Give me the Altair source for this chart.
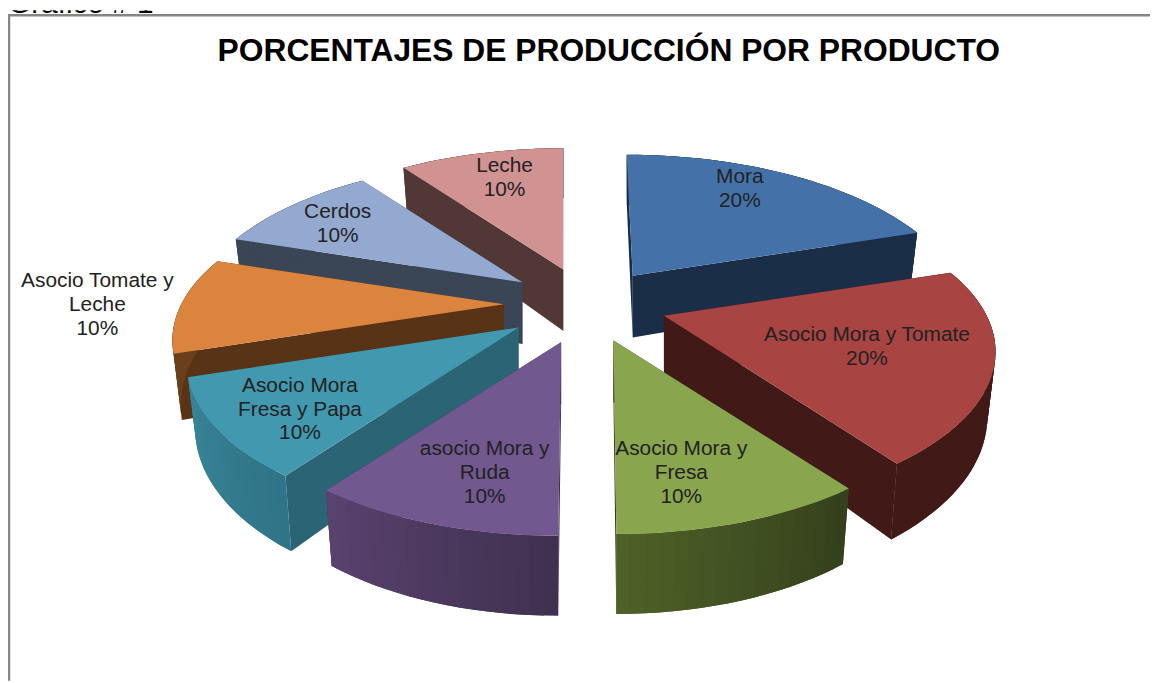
import math
import altair as alt
import pandas as pd

# ---- chart values ----
labels = ["Mora", "Asocio Mora y Tomate", "Asocio Mora y\nFresa", "asocio Mora y\nRuda",
          "Asocio Mora\nFresa y Papa", "Asocio Tomate y\nLeche", "Cerdos", "Leche"]
shares = [20, 20, 10, 10, 10, 10, 10, 10]
top_colors = ["#4472A8", "#A84442", "#89A54E", "#71588F", "#4198AF", "#DB843D", "#93A9CF", "#D09391"]
wall_colors = ["#1B2E47", "#411A17", "#343F1C", "#40304F", "#2A6475", "#593316", "#3A4556", "#523737"]
rim_start = ["#1B2E47", "#411A17", "#343F1C", "#40304F", "#2F7487", "#6B3F1C", "#3A4556", "#523737"]
rim_end = ["#1B2E47", "#411A17", "#4F6228", "#5A4370", "#3A8599", "#6B3F1C", "#3A4556", "#523737"]
explode = [0.28, 0.23, 0.20, 0.21, 0.23, 0.26, 0.285, 0.30]
title_text = "PORCENTAJES DE PRODUCCIÓN POR PRODUCTO"
caption_text = "Gráfico # 1"

# ---- layout (canvas pixels) ----
W, H = 1150, 675
CX, CY = 584, 296
RX, RY, PERSP, DEPTH, TAPER = 325, 150, 0.23, 62, 0.025
PAINT_ORDER = [7, 0, 6, 5, 1, 4, 3, 2]
SHEAR = [0.05, 0, 0.015, -0.015, 0, 0, 0, 0]
LABEL_XY = [(737, 168), (865, 327), (678, 442), (480, 442), (294, 378), (90, 273), (332, 203), (500, 157)]
FONT = "Liberation Sans"


def rim(deg):
    t = math.radians(deg)
    s = 1 / (1 + PERSP * math.cos(t))
    return RX * math.sin(t) * s, -RY * math.cos(t) * s, s


def mix(a, b, f):
    ca = [int(a[i:i + 2], 16) for i in (1, 3, 5)]
    cb = [int(b[i:i + 2], 16) for i in (1, 3, 5)]
    return "#" + "".join(f"{round(x + (y - x) * f):02x}" for x, y in zip(ca, cb))


def poly(points, fill):
    ring = [list(p) for p in points] + [list(points[0])]
    return {"type": "Feature", "properties": {"fill": fill},
            "geometry": {"type": "Polygon", "coordinates": [ring]}}


features = [poly([(1, 5), (W + 30, 5), (W + 30, H + 30), (1, H + 30)], "#FFFFFF")]
text_rows = []
start = 0.0
angles = []
for sh in shares:
    angles.append((start, start + sh * 3.6))
    start += sh * 3.6

for i in PAINT_ORDER:
    a0, a1 = angles[i]
    mx, my, _ = rim((a0 + a1) / 2)
    tx, ty = CX + explode[i] * mx, CY + explode[i] * my
    n = max(2, round((a1 - a0) / 2))
    arc = [a0 + (a1 - a0) * k / n for k in range(n + 1)]
    top = [(tx + rim(a)[0] + SHEAR[i] * rim(a)[1], ty + rim(a)[1]) for a in arc]
    low = [(tx + (rim(a)[0] + SHEAR[i] * rim(a)[1]) * (1 - TAPER), ty + rim(a)[1] + DEPTH * rim(a)[2]) for a in arc]
    tip_low = (tx, ty + DEPTH)
    features.append(poly([(tx, ty), top[0], low[0], tip_low], wall_colors[i]))
    features.append(poly([(tx, ty), top[-1], low[-1], tip_low], wall_colors[i]))
    for k in range(n):
        j = min(k + 2, n)  # each band runs under the next one, so no seams show
        features.append(poly([top[k]] + top[k + 1:j + 1] + low[k:j + 1][::-1],
                             mix(rim_start[i], rim_end[i], (k + 0.5) / n)))
    features.append(poly([(tx, ty)] + top, top_colors[i]))

for i, lab in enumerate(labels):
    text_rows.append({"lon": LABEL_XY[i][0], "lat": LABEL_XY[i][1], "label": f"{lab}\n{shares[i]}%"})

shapes = alt.Chart(alt.Data(values=features)).mark_geoshape(strokeWidth=0, stroke=None, opacity=1).encode(
    fill=alt.Fill("properties.fill:N", scale=None),
)
frame = alt.Chart(alt.Data(values=features[:1])).mark_geoshape(
    filled=False, stroke="#868686", strokeWidth=2.5
).encode(opacity=alt.value(1))

slice_text = alt.Chart(pd.DataFrame(text_rows)).mark_text(
    font=FONT, fontSize=21, lineBreak="\n", lineHeight=24, align="center", baseline="middle", color="#222222"
).encode(longitude="lon:Q", latitude="lat:Q", text="label:N")

title = alt.Chart(pd.DataFrame([{"lon": 605, "lat": 41, "label": title_text}])).mark_text(
    font=FONT, fontSize=32, fontWeight="bold", align="center", baseline="middle", color="#000000"
).encode(longitude="lon:Q", latitude="lat:Q", text="label:N")

caption = alt.Chart(pd.DataFrame([{"lon": 0, "lat": 3, "label": caption_text}])).mark_text(
    font=FONT, fontSize=30, align="left", baseline="alphabetic", color="#000000"
).encode(longitude="lon:Q", latitude="lat:Q", text="label:N")

chart = alt.layer(shapes, frame, slice_text, title, caption).project(
    type="identity", scale=1, translate=[0, 0]
).properties(
    width=W, height=H, padding=0, autosize=alt.AutoSizeParams(type="none")
).configure_view(stroke=None)

chart.save("out.html", embed_options={"renderer": "svg", "actions": False})
